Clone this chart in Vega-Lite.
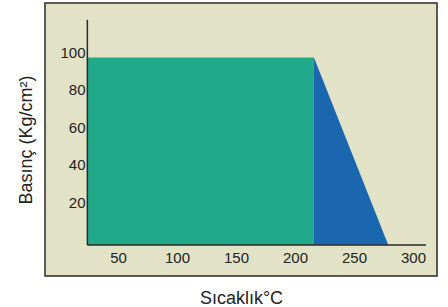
{
  "$schema": "https://vega.github.io/schema/vega-lite/v6.json",
  "autosize": "none",
  "width": 392,
  "height": 273,
  "padding": {"left": 45, "top": 3, "right": 11, "bottom": 31},
  "background": "white",
  "config": {
    "view": {"fill": "#e2e3c6", "stroke": "#2a2a2a", "strokeWidth": 1.5},
    "font": "Liberation Sans"
  },
  "datasets": {
    "zones": [
      {"temp": 24, "pressure": 100, "zone": "green"},
      {"temp": 216, "pressure": 100, "zone": "green"},
      {"temp": 216, "pressure": 100, "zone": "blue"},
      {"temp": 279, "pressure": 0, "zone": "blue"}
    ],
    "axes": [
      {"x": 24, "x2": 311, "y": 0, "y2": 0},
      {"x": 24, "x2": 24, "y": 0, "y2": 120}
    ]
  },
  "layer": [
    {
      "data": {"name": "zones"},
      "mark": {"type": "area", "stroke": null},
      "encoding": {
        "x": {
          "field": "temp", "type": "quantitative",
          "scale": {"domain": [-11.9, 320.3], "nice": false, "zero": false},
          "axis": {
            "values": [50, 100, 150, 200, 250, 300],
            "offset": -31, "domain": false, "ticks": false, "grid": false,
            "labelFontSize": 15, "labelColor": "#222", "labelPadding": 5,
            "title": "Sıcaklık°C", "titleFontSize": 18, "titleFontWeight": "normal",
            "titleColor": "#222", "titlePadding": 24
          }
        },
        "y": {
          "field": "pressure", "type": "quantitative",
          "scale": {"domain": [-16.5, 129], "nice": false, "zero": false},
          "axis": {
            "values": [20, 40, 60, 80, 100],
            "offset": -42, "domain": false, "ticks": false, "grid": false,
            "labelFontSize": 15, "labelColor": "#222", "labelPadding": 2,
            "labelBaseline": "alphabetic",
            "title": "Basınç (Kg/cm²)", "titleFontSize": 18, "titleFontWeight": "normal",
            "titleColor": "#222", "titlePadding": 24
          }
        },
        "y2": {"datum": 0},
        "color": {
          "field": "zone", "type": "nominal",
          "scale": {"domain": ["green", "blue"], "range": ["#21a98a", "#1a67b0"]},
          "legend": null
        },
        "detail": {"field": "zone"}
      }
    },
    {
      "data": {"name": "axes"},
      "mark": {"type": "rule", "color": "#2a2a2a", "strokeWidth": 1.5},
      "encoding": {
        "x": {"field": "x", "type": "quantitative"},
        "x2": {"field": "x2"},
        "y": {"field": "y", "type": "quantitative"},
        "y2": {"field": "y2"}
      }
    }
  ]
}
